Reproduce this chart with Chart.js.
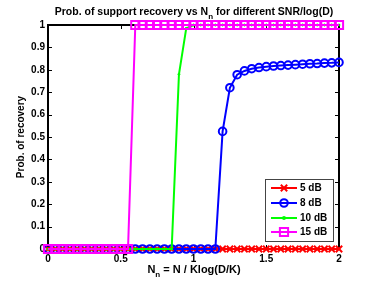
<!DOCTYPE html>
<html><head><meta charset="utf-8">
<script src="https://cdn.jsdelivr.net/npm/chart.js@4/dist/chart.umd.min.js"></script>
<style>html,body{margin:0;padding:0;background:#fff;overflow:hidden}</style>
</head><body>
<canvas id="c" width="374" height="281"></canvas>
<script>
const xValues = [0,0.05,0.1,0.15,0.2,0.25,0.3,0.35,0.4,0.45,0.5,0.55,0.6,0.65,0.7,0.75,0.8,0.85,0.9,0.95,1,1.05,1.1,1.15,1.2,1.25,1.3,1.35,1.4,1.45,1.5,1.55,1.6,1.65,1.7,1.75,1.8,1.85,1.9,1.95,2];
const snr5dB  = [0,0,0,0,0,0,0,0,0,0,0,0,0,0,0,0,0,0,0,0,0,0,0,0,0,0,0,0,0,0,0,0,0,0,0,0,0,0,0,0,0];
const snr8dB  = [0,0,0,0,0,0,0,0,0,0,0,0,0,0,0,0,0,0,0,0,0,0,0,0,0.525,0.72,0.778,0.795,0.805,0.81,0.814,0.817,0.819,0.821,0.823,0.825,0.827,0.828,0.83,0.831,0.833];
const snr10dB = [0,0,0,0,0,0,0,0,0,0,0,0,0,0,0,0,0,0,0.78,0.985,1,1,1,1,1,1,1,1,1,1,1,1,1,1,1,1,1,1,1,1,1];
const snr15dB = [0,0,0,0,0,0,0,0,0,0,0,0,1,1,1,1,1,1,1,1,1,1,1,1,1,1,1,1,1,1,1,1,1,1,1,1,1,1,1,1,1];
const xTicks = [0,0.5,1,1.5,2];
const yTicks = [0,0.1,0.2,0.3,0.4,0.5,0.6,0.7,0.8,0.9,1];
const seriesLabels = ['5 dB','8 dB','10 dB','15 dB'];
const seriesColors = ['#ff0000','#0000ff','#00ff00','#ff00ff'];

const FONT = '"Liberation Sans", Arial, sans-serif';
const pts = arr => arr.map((y,i)=>({x:xValues[i], y}));

const marker = [
  {pointStyle:'crossRot', pointRadius:4.5, pointBorderWidth:2},
  {pointStyle:'circle', pointRadius:3.8, pointBorderWidth:2},
  {pointStyle:'circle', pointRadius:1, pointBorderWidth:1},
  {pointStyle:'rect', pointRadius:5.8, pointBorderWidth:2}
];
const series = [snr5dB, snr8dB, snr10dB, snr15dB];
const datasets = series.map((s,i)=>({
  label: seriesLabels[i],
  data: pts(s),
  borderColor: seriesColors[i],
  backgroundColor: 'rgba(0,0,0,0)',
  pointBackgroundColor: i===2 ? seriesColors[i] : 'rgba(0,0,0,0)',
  pointBorderColor: seriesColors[i],
  borderWidth: 2,
  tension: 0,
  clip: false,
  order: 4 - i,
  ...marker[i]
}));

function drawMarker(ctx, i, x, y){
  const m = marker[i];
  Chart.helpers.drawPoint(ctx, {pointStyle:m.pointStyle, radius:m.pointRadius, rotation:0, borderWidth:m.pointBorderWidth}, x, y);
}

const deco = {
  id:'deco',
  beforeDatasetsDraw(chart){
    const {ctx, chartArea:a, scales:{x,y}} = chart;
    ctx.save();
    ctx.strokeStyle = '#000'; ctx.lineWidth = 2;
    ctx.strokeRect(a.left, a.top, a.right-a.left, a.bottom-a.top);
    ctx.lineWidth = 1;
    ctx.beginPath();
    yTicks.forEach(v=>{
      const py = Math.round(y.getPixelForValue(v))+0.5;
      ctx.moveTo(a.left, py); ctx.lineTo(a.left+4, py);
      ctx.moveTo(a.right, py); ctx.lineTo(a.right-4, py);
    });
    xTicks.forEach(v=>{
      const px = Math.round(x.getPixelForValue(v))+0.5;
      ctx.moveTo(px, a.bottom); ctx.lineTo(px, a.bottom-4);
      ctx.moveTo(px, a.top); ctx.lineTo(px, a.top+4);
    });
    ctx.stroke();
    ctx.restore();
  },
  afterDatasetsDraw(chart){
    const {ctx, chartArea:a} = chart;
    ctx.save();
    ctx.fillStyle = '#000';
    ctx.textBaseline = 'alphabetic';
    const drawParts = (parts, cx, base) => {
      let w = 0;
      parts.forEach(p=>{ ctx.font = p[1]; w += ctx.measureText(p[0]).width; });
      let px = cx - w/2;
      parts.forEach(p=>{ ctx.font = p[1]; ctx.fillText(p[0], px, base + p[2]); px += ctx.measureText(p[0]).width; });
    };
    // Title with subscript
    const tf = 'bold 10.5px ' + FONT, sf = 'bold 8px ' + FONT;
    drawParts([['Prob. of support recovery vs N', tf, 0], ['n', sf, 4], [' for different SNR/log(D)', tf, 0]], 194, 15);
    // X label
    const xf = 'bold 11px ' + FONT;
    drawParts([['N', xf, 0], ['n', sf, 4], [' = N / Klog(D/K)', xf, 0]], 194, 273);
    // Y label
    ctx.save();
    ctx.translate(24, (a.top+a.bottom)/2);
    ctx.rotate(-Math.PI/2);
    ctx.font = 'bold 10px ' + FONT;
    ctx.textAlign = 'center';
    ctx.fillText('Prob. of recovery', 0, 0);
    ctx.restore();
    // Legend
    const lx = 265, ly = 179, lw = 68, lh = 62;
    ctx.fillStyle = '#fff';
    ctx.fillRect(lx, ly, lw, lh);
    ctx.strokeStyle = '#444'; ctx.lineWidth = 1;
    ctx.strokeRect(lx+0.5, ly+0.5, lw, lh);
    const rows = [188, 203, 218, 232];
    seriesLabels.forEach((lab,i)=>{
      const ry = rows[i];
      ctx.strokeStyle = seriesColors[i]; ctx.fillStyle = i===2 ? seriesColors[i] : 'rgba(0,0,0,0)';
      ctx.lineWidth = 2;
      ctx.beginPath(); ctx.moveTo(271, ry); ctx.lineTo(297, ry); ctx.stroke();
      drawMarker(ctx, i, 284, ry);
      ctx.fillStyle = '#000';
      ctx.font = 'bold 10px ' + FONT;
      ctx.textBaseline = 'middle';
      ctx.textAlign = 'left';
      ctx.fillText(lab, 300, ry+0.5);
    });
    ctx.restore();
  }
};

const tickFont = {family: FONT, weight:'bold', size:10};
new Chart(document.getElementById('c'), {
  type:'line',
  data:{datasets},
  options:{
    responsive:false, animation:false, devicePixelRatio:1,
    layout:{padding:{top:25, right:35, left:0, bottom:0}},
    plugins:{legend:{display:false}, tooltip:{enabled:false}, title:{display:false}},
    scales:{
      x:{type:'linear', min:0, max:2,
        afterFit(s){ s.height = 32; },
        afterBuildTicks(s){ s.ticks = xTicks.map(v=>({value:v})); },
        grid:{display:false, drawTicks:false}, border:{display:false},
        ticks:{font:tickFont, color:'#000', padding:4, maxRotation:0, autoSkip:false, callback:v=>String(v)}},
      y:{type:'linear', min:0, max:1,
        afterFit(s){ s.width = 48; },
        afterBuildTicks(s){ s.ticks = yTicks.map(v=>({value:v})); },
        grid:{display:false, drawTicks:false}, border:{display:false},
        ticks:{font:tickFont, color:'#000', padding:3, autoSkip:false, callback:v=>String(v)}}
    }
  },
  plugins:[deco]
});
</script>
</body></html>
